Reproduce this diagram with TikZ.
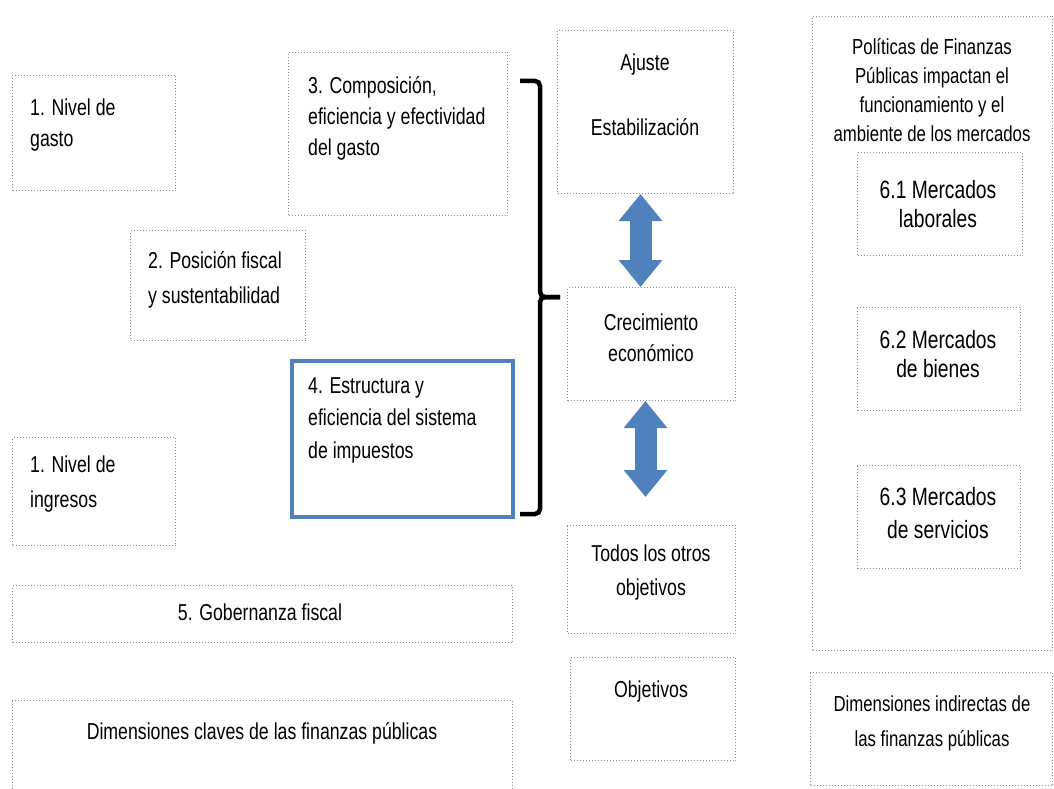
\documentclass[tikz,border=0pt]{standalone}
\usepackage{fontspec}
\setmainfont{Liberation Sans}[FakeStretch=0.77]
\usepackage{tikz}
\usetikzlibrary{positioning,calc,arrows.meta}
\definecolor{boxblue}{RGB}{79,129,189}
\definecolor{dotgray}{RGB}{140,140,140}
\newcommand{\txtL}{\fontsize{23}{31}\selectfont}
\newcommand{\txtR}{\fontsize{21.8}{29}\selectfont}
\newcommand{\txtM}{\fontsize{25}{29}\selectfont}
\tikzset{
  dotbox/.style={draw=dotgray, dotted, line width=1pt, inner sep=0pt, anchor=north west},
  lefttxt/.style={font=\txtL, align=left, anchor=west, inner sep=0pt},
  midtxt/.style={font=\txtL, align=center, inner sep=0pt},
  righttxt/.style={font=\txtR, align=center, inner sep=0pt},
  markettxt/.style={font=\txtM, align=center, inner sep=0pt},
  bracestyle/.style={line width=4.5pt, rounded corners=5pt},
  fatarrow/.style={line width=22pt, draw=boxblue,
    {Triangle[width=42pt,length=27pt]}-{Triangle[width=42pt,length=27pt]}}
}

\begin{document}
\begin{tikzpicture}[x=1pt,y=-1pt]
    \useasboundingbox (0,0) rectangle (1054,789);
    % left column
    \node[dotbox, minimum width=163pt, minimum height=115pt] (gasto) at (12,75) {};
    \node[lefttxt] (gastotxt) at (30,125) {1. Nivel de\\gasto};
    \node[dotbox, minimum width=219pt, minimum height=163pt] (comp) at (288,52) {};
    \node[lefttxt] (comptxt) at (308,118) {3. Composición,\\eficiencia y efectividad\\del gasto};
    \node[dotbox, minimum width=175pt, minimum height=110pt] (pos) at (130,230) {};
    \node[lefttxt] (postxt) at (148,279.5) {2. Posición fiscal\\[4pt]y sustentabilidad};
    \node[draw=boxblue, line width=4pt, minimum width=221pt, minimum height=156pt,
      inner sep=0pt, anchor=north west] (estr) at (290,359) {};
    \node[lefttxt] (estrtxt) at (308,420) {4. Estructura y\\[1.5pt]eficiencia del sistema\\[1.5pt]de impuestos};
    \node[dotbox, minimum width=163pt, minimum height=108pt] (ingr) at (12,437) {};
    \node[lefttxt] (ingrtxt) at (30,484.5) {1. Nivel de\\[4pt]ingresos};
    \node[dotbox, minimum width=500pt, minimum height=57pt] (gob) at (12,585) {};
    \node[midtxt] (gobtxt) at (260,612) {5. Gobernanza fiscal};
    \node[dotbox, minimum width=500pt, minimum height=95pt] (dimc) at (12,700) {};
    \node[midtxt] (dimctxt) at (262,733) {Dimensiones claves de las finanzas públicas};
    % brace
    \coordinate (bracetop) at (520,81);
    \coordinate (bracebot) at (520,514);
    \coordinate (bracemid) at (540,297);
    \coordinate (bracetip) at (560,297);
    \draw[bracestyle] (bracetop) -| (bracemid) -- (bracetip);
    \draw[bracestyle] (bracebot) -| (bracemid) -- (bracetip);
    % middle column
    \node[dotbox, minimum width=176pt, minimum height=163pt] (ajuste) at (557,30) {};
    \node[midtxt] (ajustetxt) at (645,94.5) {Ajuste\\[34pt]Estabilización};
    \node[dotbox, minimum width=168pt, minimum height=113pt] (crec) at (567,287) {};
    \node[midtxt] (crectxt) at (651,337.5) {Crecimiento\\económico};
    \node[dotbox, minimum width=168pt, minimum height=108pt] (todos) at (567,525) {};
    \node[midtxt] (todostxt) at (651,573) {Todos los otros\\[3pt]objetivos};
    \node[dotbox, minimum width=165pt, minimum height=103pt] (obj) at (570,657) {};
    \node[midtxt] (objtxt) at (651,692) {Objetivos};
    \draw[fatarrow] ([xshift=-5pt]ajuste.south) -- ([xshift=-11pt]crec.north);
    \draw[fatarrow, shorten >=28pt] ([xshift=-6pt]crec.south) -- ([xshift=-6pt]todos.north);
    % right column
    \node[dotbox, minimum width=240pt, minimum height=634pt] (pol) at (812,16) {};
    \node[righttxt] (poltxt) at (932,90) {Políticas de Finanzas\\Públicas impactan el\\funcionamiento y el\\ambiente de los mercados};
    \node[dotbox, minimum width=165pt, minimum height=103pt] (mlab) at (857,152) {};
    \node[markettxt] (mlabtxt) at (938,204.5) {6.1 Mercados\\laborales};
    \node[dotbox, minimum width=163pt, minimum height=103pt] (mbie) at (857,307) {};
    \node[markettxt] (mbietxt) at (938,354.5) {6.2 Mercados\\de bienes};
    \node[dotbox, minimum width=163pt, minimum height=103pt] (mser) at (857,465) {};
    \node[markettxt] (msertxt) at (938,513.5) {6.3 Mercados\\[4pt]de servicios};
    \node[dotbox, minimum width=242pt, minimum height=113pt] (dimi) at (810,672) {};
    \node[righttxt] (dimitxt) at (932,723.5) {Dimensiones indirectas de\\[6pt]las finanzas públicas};
\end{tikzpicture}
\end{document}
